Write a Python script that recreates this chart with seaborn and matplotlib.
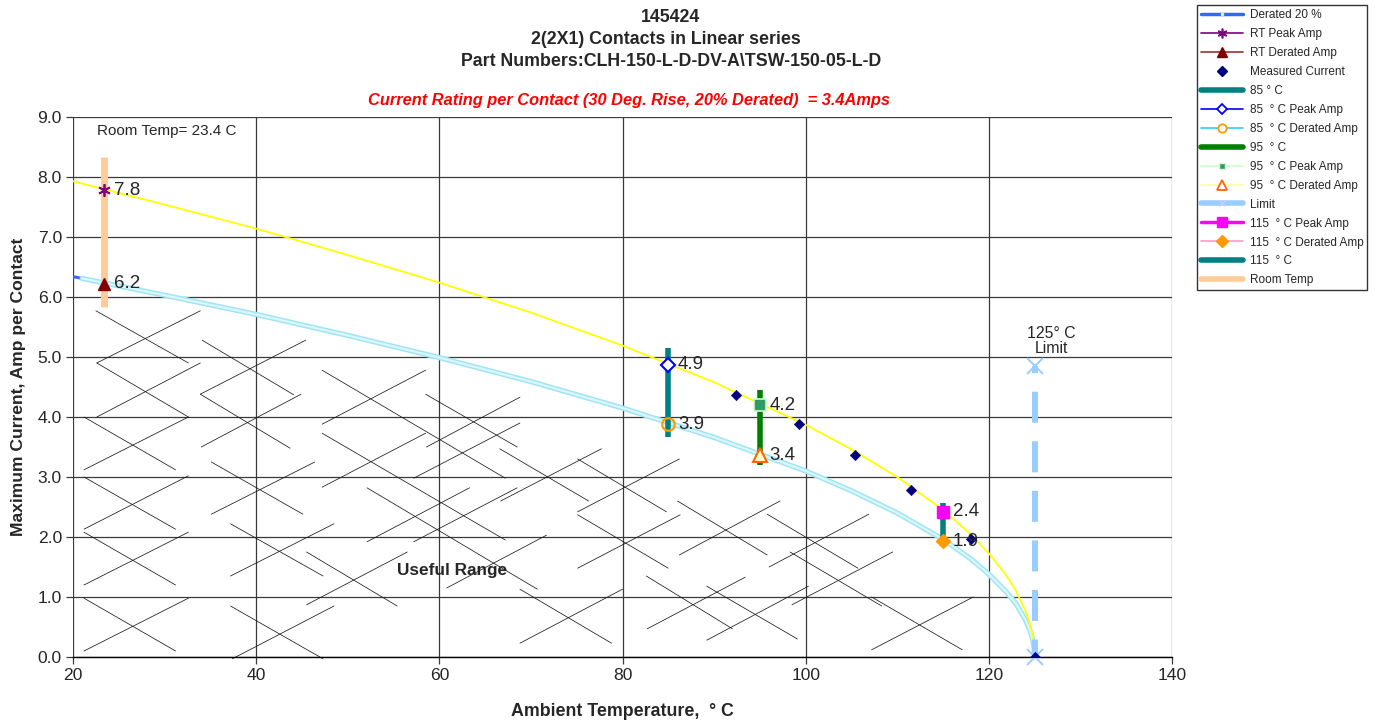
import matplotlib
matplotlib.use("Agg")
import matplotlib.pyplot as plt
from matplotlib.lines import Line2D
import seaborn as sns

sns.set_style("white")
plt.rcParams['font.family'] = ['Liberation Sans', 'DejaVu Sans']

# ---------------- data ----------------
curve_temps = [20, 21, 30, 40, 50, 60, 70, 80, 90, 100, 105, 110, 115, 118, 120, 122, 123,
               124, 124.5, 124.8, 124.95, 125]
peak_curve = [7.93, 7.89, 7.54, 7.14, 6.70, 6.24, 5.74, 5.19, 4.58, 3.87, 3.46, 3.00, 2.45, 2.05,
              1.73, 1.34, 1.09, 0.77, 0.55, 0.35, 0.17, 0.0]
derated_curve = [6.34, 6.31, 6.03, 5.71, 5.36, 4.99, 4.59, 4.15, 3.66, 3.10, 2.77, 2.40, 1.96, 1.64,
                 1.38, 1.07, 0.88, 0.62, 0.44, 0.28, 0.14, 0.0]

measured_temps = [92.4, 99.3, 105.4, 111.5, 118.0, 125.0]
measured_current = [4.36, 3.88, 3.37, 2.78, 1.97, 0.0]

room_temp = 23.4
rt_peak, rt_derated = 7.78, 6.22
t85_peak, t85_derated = 4.87, 3.88
t95_peak, t95_derated = 4.20, 3.36
t115_peak, t115_derated = 2.42, 1.93

# vertical range bars: (temperature, low, high)
room_bar = (23.4, 5.83, 8.33)
bar_85 = (85, 3.67, 5.15)
bar_95 = (95, 3.20, 4.45)
bar_115 = (115, 1.90, 2.57)
limit_bar = (125, 4.85, 0.0)

# decorative hatch of the "useful range" (T0, A0, T1, A1)
hatch_segments = [
    (22.5, 5.77, 32.6, 4.90), (22.6, 4.90, 33.9, 5.77), (22.6, 4.90, 32.6, 4.00), (22.6, 4.00, 33.9, 4.90),
    (21.2, 4.00, 31.2, 3.12), (21.2, 3.12, 32.6, 4.00), (21.2, 3.00, 31.2, 2.13), (21.2, 2.13, 32.6, 3.02),
    (21.2, 2.08, 31.2, 1.20), (21.2, 1.20, 32.6, 2.08), (21.2, 0.98, 31.2, 0.10), (21.2, 0.10, 32.6, 0.98),
    (34.1, 5.28, 44.1, 4.37), (33.9, 4.38, 45.4, 5.28), (33.9, 4.38, 43.7, 3.48), (34.0, 3.50, 44.9, 4.38),
    (35.1, 3.25, 45.1, 2.38), (35.1, 2.38, 46.4, 3.25), (37.2, 2.22, 47.3, 1.35), (37.2, 1.35, 48.5, 2.22),
    (37.2, 0.85, 47.3, -0.03), (37.4, -0.03, 48.5, 0.85), (47.2, 4.78, 67.2, 2.98), (47.2, 3.88, 58.5, 4.78),
    (47.2, 3.73, 67.2, 1.95), (47.2, 2.83, 58.5, 3.73), (58.5, 4.38, 68.5, 3.50), (58.6, 3.50, 68.8, 4.33),
    (57.2, 2.98, 68.8, 3.90), (66.6, 3.47, 76.3, 2.60), (66.7, 2.60, 77.7, 3.47), (52.1, 2.82, 70.7, 1.13),
    (57.2, 1.92, 68.5, 2.82), (60.8, 1.15, 71.7, 2.03), (45.5, 1.75, 55.4, 0.85), (45.5, 0.87, 56.5, 1.75),
    (68.8, 1.13, 78.8, 0.23), (68.8, 0.23, 80.0, 1.13), (75.1, 3.30, 84.8, 2.42), (75.1, 2.42, 86.2, 3.30),
    (75.1, 2.37, 85.0, 1.48), (75.1, 1.48, 86.3, 2.37), (82.6, 1.35, 92.0, 0.47), (82.7, 0.47, 93.4, 1.33),
    (86.0, 2.60, 95.8, 1.70), (86.2, 1.70, 97.2, 2.60), (95.8, 2.38, 105.7, 1.48), (96.0, 1.50, 106.9, 2.38),
    (89.2, 1.18, 99.1, 0.30), (89.2, 0.28, 100.3, 1.18), (98.3, 1.75, 108.3, 0.85), (98.5, 0.87, 109.5, 1.75),
    (107.2, 1.00, 117.1, 0.12), (107.2, 0.12, 118.3, 1.00), (52.1, 1.92, 63.3, 2.82),
]

x_ticks = [20, 40, 60, 80, 100, 120, 140]
y_ticks = [0, 1, 2, 3, 4, 5, 6, 7, 8, 9]

# ---------------- figure ----------------
W, H = 1382, 721
fig = plt.figure(figsize=(W / 100, H / 100), dpi=100)
ax = fig.add_axes([73 / W, (H - 657) / H, (1172 - 73) / W, (657 - 117) / H])
ax.set_xlim(20, 140)
ax.set_ylim(0, 9)

# grid
ax.set_xticks(x_ticks)
ax.set_yticks(y_ticks)
ax.set_yticklabels([f"{v:.1f}" for v in y_ticks])
ax.grid(True, color='#3a3a3a', lw=0.9, zorder=0)
ax.set_axisbelow(True)
for s in ['top', 'right', 'left']:
    ax.spines[s].set_visible(False)
ax.spines['bottom'].set_color('black')
ax.spines['bottom'].set_linewidth(1.0)
ax.tick_params(axis='both', which='both', length=5, width=0.9, color='#3a3a3a',
               labelsize=12.6, direction='out', bottom=True, left=True, pad=3)

# hatch
for t0, a0, t1, a1 in hatch_segments:
    ax.plot([t0, t1], [a0, a1], color='#1a1a1a', lw=0.55, zorder=1, clip_on=False)

# curves
sns.lineplot(x=curve_temps, y=derated_curve, ax=ax, color='#3366ff', lw=2.2, sort=False,
             legend=False, zorder=3)
sns.lineplot(x=curve_temps[1:], y=derated_curve[1:], ax=ax, color='#a3e4f2', lw=3.8, sort=False,
             legend=False, zorder=3)
sns.lineplot(x=curve_temps[1:], y=derated_curve[1:], ax=ax, color='#d9f7ff', lw=1.6, sort=False,
             legend=False, zorder=3)
sns.lineplot(x=curve_temps, y=peak_curve, ax=ax, color='#ffff00', lw=1.3, sort=False,
             legend=False, zorder=3)

# vertical bars
ax.plot([room_bar[0]] * 2, room_bar[1:], color='#ffcc99', lw=5, zorder=4, solid_capstyle='butt')
ax.plot([bar_85[0]] * 2, bar_85[1:], color='#008080', lw=4, zorder=4, solid_capstyle='butt')
ax.plot([bar_95[0]] * 2, bar_95[1:], color='#008000', lw=4, zorder=4, solid_capstyle='butt')
ax.plot([bar_115[0]] * 2, bar_115[1:], color='#008080', lw=4, zorder=4, solid_capstyle='butt')
ax.plot([limit_bar[0]] * 2, limit_bar[1:], color='#99ccff', lw=4.3, ls=(4.0, (5.2, 3.1)), zorder=4,
        dash_capstyle='butt', clip_on=False)
ax.plot([limit_bar[0]] * 2, limit_bar[1:], ls='none', color='#99ccff', marker='x', ms=11, mew=1.4,
        zorder=5, clip_on=False)

# points
sns.scatterplot(x=measured_temps, y=measured_current, ax=ax, color='#000080', marker='D', s=28,
                edgecolor='#000080', zorder=6, legend=False)
ax.plot([room_temp], [rt_peak], ls='none', marker=(6, 2, 0), ms=9, mew=1.3, color='#800080', zorder=6)
ax.plot([room_temp], [rt_derated], ls='none', marker='^', ms=9, color='#800000', zorder=6)
ax.plot([85], [t85_peak], ls='none', marker='D', ms=7, mfc='white', mec='#0000ff', mew=1.5, zorder=6)
ax.plot([85], [t85_derated], ls='none', marker='o', ms=9, mfc='none', mec='#ff9900', mew=1.6, zorder=6)
ax.plot([95], [t95_peak], ls='none', marker='s', ms=8, mfc='#339966', mec='#ccffcc', mew=1.2, zorder=6)
ax.plot([95], [t95_derated], ls='none', marker='^', ms=9.5, mfc='#ffffcc', mec='#ff6600', mew=1.5, zorder=6)
ax.plot([115], [t115_peak], ls='none', marker='s', ms=8.5, color='#ff00ff', zorder=6)
ax.plot([115], [t115_derated], ls='none', marker='D', ms=7.5, color='#ff9900', zorder=6)

# value labels
for t, v in [(room_temp, rt_peak), (room_temp, rt_derated), (85, t85_peak), (85, t85_derated),
             (95, t95_peak), (95, t95_derated), (115, t115_peak), (115, t115_derated)]:
    ax.annotate(f"{v:.1f}", (t, v), xytext=(7, 0), textcoords='offset points', va='center',
                ha='left', fontsize=13.5, zorder=7)

# annotations
ax.text(22.6, 8.77, "Room Temp= 23.4 C", fontsize=11, va='center', ha='left')
ax.text(126.8, 5.27, "125° C\nLimit", fontsize=11.4, va='center', ha='center', linespacing=1.0)
ax.text(61.4, 1.45, "Useful Range", fontsize=12.4, fontweight='bold', va='center', ha='center')

# titles
fig.text(671 / W, 1 - 17 / H, "145424", ha='center', va='center', fontsize=12.8, fontweight='bold')
fig.text(666 / W, 1 - 40 / H, "2(2X1) Contacts in Linear series", ha='center', va='center',
         fontsize=12.8, fontweight='bold')
fig.text(671 / W, 1 - 61 / H, "Part Numbers:CLH-150-L-D-DV-A\\TSW-150-05-L-D", ha='center',
         va='center', fontsize=12.8, fontweight='bold')
fig.text(629 / W, 1 - 100 / H, "Current Rating per Contact (30 Deg. Rise, 20% Derated)  = 3.4Amps",
         ha='center', va='center', fontsize=11.8, fontweight='bold', fontstyle='italic', color='#ff0000')

ax.set_xlabel("Ambient Temperature,  ° C", fontsize=12.8, fontweight='bold', labelpad=14)
ax.set_ylabel("Maximum Current, Amp per Contact", fontsize=12.6, fontweight='bold', labelpad=8)

# legend
handles = [
    Line2D([], [], color='#3366ff', lw=2.5, marker='.', ms=3, mfc='#ccffff', mec='#ccffff'),
    Line2D([], [], color='#800080', lw=1.2, marker=(6, 2, 0), ms=7, mew=1.2),
    Line2D([], [], color='#993333', lw=1.2, marker='^', ms=7, mfc='#800000', mec='#800000'),
    Line2D([], [], ls='none', marker='D', ms=5, color='#000080'),
    Line2D([], [], color='#008080', lw=4),
    Line2D([], [], color='#0000ff', lw=1.2, marker='D', ms=5, mfc='white', mew=1.3),
    Line2D([], [], color='#33ccff', lw=1.2, marker='o', ms=6, mfc='white', mec='#ff9900', mew=1.3),
    Line2D([], [], color='#008000', lw=4),
    Line2D([], [], color='#ccffcc', lw=1.2, marker='s', ms=5, mfc='#339966', mec='#ccffcc'),
    Line2D([], [], color='#ffff99', lw=1.2, marker='^', ms=7, mfc='white', mec='#ff6600', mew=1.3),
    Line2D([], [], color='#99ccff', lw=4, marker='x', ms=5, mec='#ccccff'),
    Line2D([], [], color='#ff00ff', lw=2.5, marker='s', ms=7),
    Line2D([], [], color='#ff99cc', lw=1.2, marker='D', ms=6, mfc='#ff9900', mec='#ff9900'),
    Line2D([], [], color='#008080', lw=4),
    Line2D([], [], color='#ffcc99', lw=4),
]
labels = ["Derated 20 %", "RT Peak Amp", "RT Derated Amp", "Measured Current", "85 ° C",
          "85  ° C Peak Amp", "85  ° C Derated Amp", "95  ° C", "95  ° C Peak Amp",
          "95  ° C Derated Amp", "Limit", "115  ° C Peak Amp", "115  ° C Derated Amp", "115  ° C",
          "Room Temp"]
leg = fig.legend(handles, labels, loc='lower left', bbox_to_anchor=(1197 / W, 1 - 290 / H),
                 fontsize=8.5, frameon=True, fancybox=False, edgecolor='#333333', framealpha=1,
                 handlelength=3.6, handletextpad=0.55, labelspacing=0.59, borderpad=0.3,
                 borderaxespad=0)
leg.get_frame().set_linewidth(1.0)

fig.savefig("out.png", dpi=100)
